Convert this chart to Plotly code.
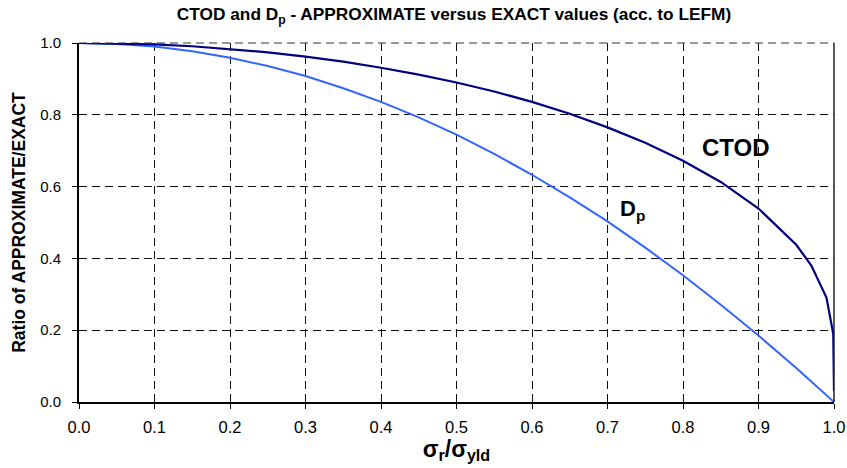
import plotly.graph_objects as go

# Data
ratio = [0.0, 0.05, 0.1, 0.15, 0.2, 0.25, 0.3, 0.35, 0.4, 0.45, 0.5, 0.55,
         0.6, 0.65, 0.7, 0.75, 0.8, 0.85, 0.9, 0.95, 0.97, 0.99, 0.999, 1.0]
ctod = [1.0, 0.999, 0.996, 0.991, 0.983, 0.974, 0.962, 0.948, 0.931, 0.912, 0.890, 0.865,
        0.836, 0.803, 0.765, 0.722, 0.672, 0.613, 0.539, 0.438, 0.380, 0.291, 0.19, 0.03]

ratio_dp = [0.0, 0.05, 0.1, 0.15, 0.2, 0.25, 0.3, 0.35, 0.4, 0.45, 0.5, 0.55,
            0.6, 0.65, 0.7, 0.75, 0.8, 0.85, 0.9, 0.95, 1.0]
dp = [1.0, 0.997, 0.990, 0.977, 0.959, 0.936, 0.908, 0.874, 0.836, 0.793, 0.745, 0.691,
      0.633, 0.570, 0.503, 0.430, 0.353, 0.271, 0.185, 0.095, 0.0]

x_ticks = [0.0, 0.1, 0.2, 0.3, 0.4, 0.5, 0.6, 0.7, 0.8, 0.9, 1.0]
y_ticks = [0.0, 0.2, 0.4, 0.6, 0.8, 1.0]

FONT = "Liberation Sans, Arial, sans-serif"
GRID_DASH = "8px,5px"

fig = go.Figure()
fig.add_trace(go.Scatter(x=ratio_dp, y=dp, mode="lines",
                         line=dict(color="#3366ff", width=2), name="Dp"))
fig.add_trace(go.Scatter(x=ratio, y=ctod, mode="lines",
                         line=dict(color="#000080", width=2.2), name="CTOD"))

# top and right frame lines
fig.add_shape(type="line", xref="x domain", yref="y domain", x0=0, x1=1, y0=1, y1=1,
              line=dict(color="#333333", width=1.2, dash=GRID_DASH))
fig.add_shape(type="line", xref="x domain", yref="y domain", x0=1, x1=1, y0=0, y1=1,
              line=dict(color="#222222", width=1.5))

fig.add_annotation(x=0.87, y=0.71, text="<b>CTOD</b>", showarrow=False,
                   font=dict(family=FONT, size=24, color="black"))
fig.add_annotation(x=0.733, y=0.535, text="<b>D<sub>p</sub></b>", showarrow=False,
                   font=dict(family=FONT, size=22, color="black"))

fig.update_layout(
    width=847, height=468,
    margin=dict(l=79, r=13, t=43, b=66),
    paper_bgcolor="white", plot_bgcolor="white",
    showlegend=False,
    title=dict(text="<b>CTOD and D<sub>p</sub> - APPROXIMATE versus EXACT values (acc. to LEFM)</b>",
               x=0.536, xanchor="center", y=0.97, yanchor="middle",
               font=dict(family=FONT, size=17.3, color="black")),
    font=dict(family=FONT, size=15, color="black"),
)
fig.update_xaxes(range=[0, 1], tickvals=x_ticks, ticktext=[f"{v:.1f}" for v in x_ticks],
                 showgrid=True, gridcolor="#111111", gridwidth=1, griddash=GRID_DASH,
                 showline=True, linecolor="black", linewidth=1.5,
                 ticks="outside", ticklen=5, tickcolor="black",
                 ticklabelstandoff=4, automargin=False,
                 zeroline=False,
                 title=dict(text="<b>σ<sub>r</sub>/σ<sub>yld</sub></b>", standoff=4,
                            font=dict(family=FONT, size=23)),
                 tickfont=dict(family=FONT, size=16.5))
fig.update_yaxes(range=[0, 1], tickvals=y_ticks, ticktext=[f"{v:.1f}" for v in y_ticks],
                 showgrid=True, gridcolor="#111111", gridwidth=1, griddash=GRID_DASH,
                 showline=True, linecolor="black", linewidth=2,
                 ticks="outside", ticklen=5, tickcolor="black",
                 ticklabelstandoff=8, automargin=False,
                 zeroline=False,
                 title=dict(text="<b>Ratio of APPROXIMATE/EXACT</b>", standoff=10,
                            font=dict(family=FONT, size=17.5)),
                 tickfont=dict(family=FONT, size=15))

fig.write_html("out.html", config={"displayModeBar": False})

# remove the browser's default page margin so the figure sits at the window origin
with open("out.html", "r", encoding="utf-8") as f:
    html = f.read()
html = html.replace("<head>", "<head><style>html,body{margin:0;padding:0;overflow:hidden;}</style>", 1)
with open("out.html", "w", encoding="utf-8") as f:
    f.write(html)
